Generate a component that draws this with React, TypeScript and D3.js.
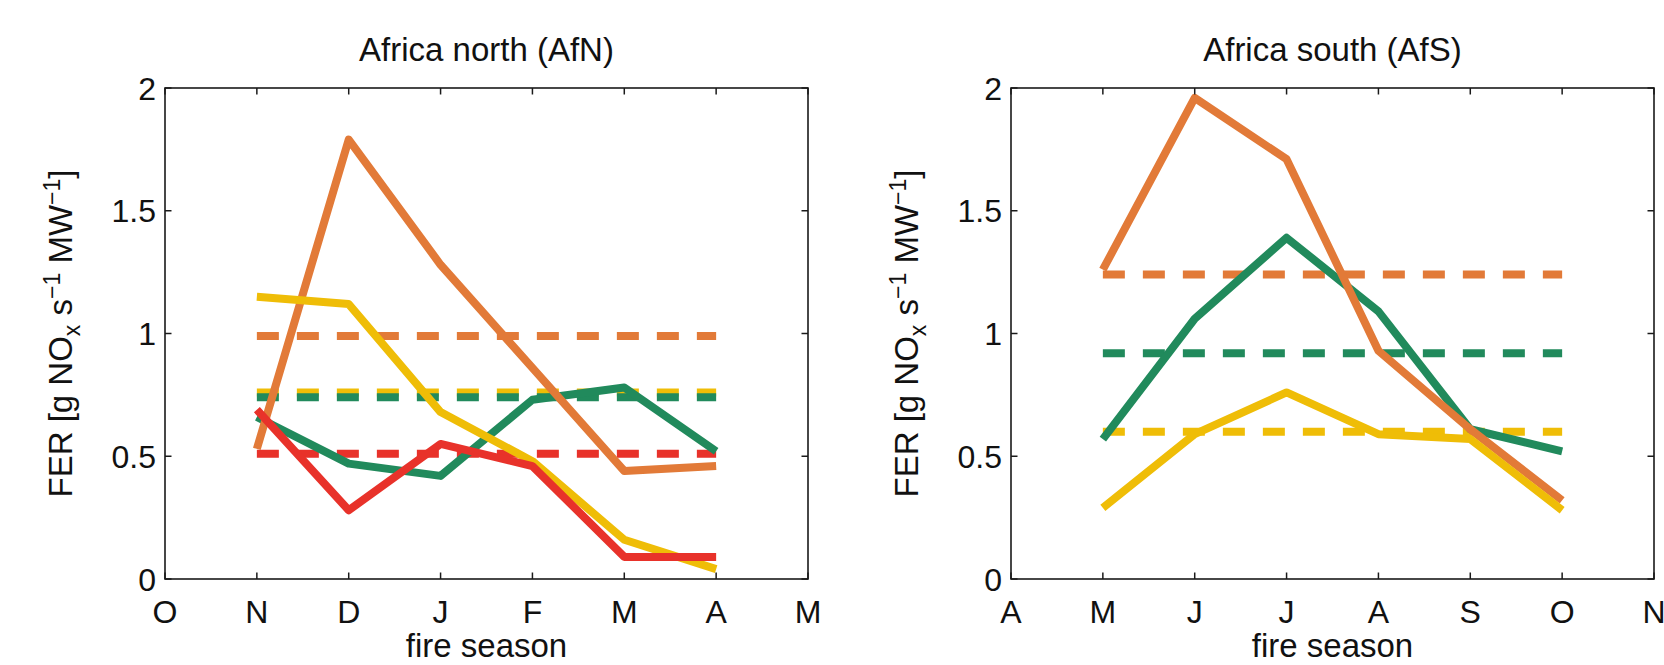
import React from "react";
import * as d3 from "d3";

// ---------- data ----------
const ticksNorth = ["O", "N", "D", "J", "F", "M", "A", "M"];
const ticksSouth = ["A", "M", "J", "J", "A", "S", "O", "N"];
const yTicks = [0, 0.5, 1, 1.5, 2];

// Africa north (AfN): values for N, D, J, F, M, A
const afnOrange = [0.53, 1.79, 1.28, 0.86, 0.44, 0.46];
const afnYellow = [1.15, 1.12, 0.68, 0.48, 0.16, 0.04];
const afnGreen = [0.66, 0.47, 0.42, 0.73, 0.78, 0.52];
const afnRed = [0.69, 0.28, 0.55, 0.46, 0.09, 0.09];
const afnMeans = { orange: 0.99, yellow: 0.76, green: 0.74, red: 0.51 };

// Africa south (AfS): values for M, J, J, A, S, O
const afsOrange = [1.26, 1.96, 1.71, 0.93, 0.61, 0.32];
const afsGreen = [0.57, 1.06, 1.39, 1.09, 0.61, 0.52];
const afsYellow = [0.29, 0.59, 0.76, 0.59, 0.57, 0.28];
const afsMeans = { orange: 1.24, green: 0.92, yellow: 0.6 };

const COLORS: Record<string, string> = {
  orange: "#e27a38",
  yellow: "#efbd07",
  green: "#218a5c",
  red: "#e8322a",
};

const FONT = "'Liberation Sans', Arial, Helvetica, sans-serif";

type Series = { color: string; values: number[]; mean?: number };

function Panel({
  left,
  title,
  ticks,
  series,
  dashed,
}: {
  left: number;
  title: string;
  ticks: string[];
  series: Series[];
  dashed: { color: string; value: number }[];
}) {
  const width = 643;
  const top = 88;
  const bottom = 579;
  const x = d3.scaleLinear().domain([0, ticks.length - 1]).range([left, left + width]);
  const y = d3.scaleLinear().domain([0, 2]).range([bottom, top]);
  const line = d3
    .line<number>()
    .x((_, i) => x(i + 1))
    .y((d) => y(d));
  const tl = 6.5;
  const firstIdx = 1;
  const lastIdx = ticks.length - 2;

  // solids drawn in a given order
  return (
    <g>
      {/* dashed means */}
      {dashed.map((d, i) => (
        <line
          key={"d" + i}
          x1={x(firstIdx)}
          x2={x(lastIdx)}
          y1={y(d.value)}
          y2={y(d.value)}
          stroke={COLORS[d.color]}
          strokeWidth={8}
          strokeDasharray="22 18"
        />
      ))}
      {series.map((s, i) => (
        <path
          key={"s" + i}
          d={line(s.values) || ""}
          fill="none"
          stroke={COLORS[s.color]}
          strokeWidth={8}
          strokeLinejoin="round"
          strokeLinecap="butt"
        />
      ))}
      {/* axes box */}
      <rect
        x={left}
        y={top}
        width={width}
        height={bottom - top}
        fill="none"
        stroke="#1a1a1a"
        strokeWidth={1.6}
      />
      {/* x ticks */}
      {ticks.map((t, i) => (
        <g key={"xt" + i}>
          <line x1={x(i)} x2={x(i)} y1={bottom} y2={bottom - tl} stroke="#1a1a1a" strokeWidth={1.5} />
          <line x1={x(i)} x2={x(i)} y1={top} y2={top + tl} stroke="#1a1a1a" strokeWidth={1.5} />
          <text
            x={x(i)}
            y={623}
            textAnchor="middle"
            fontFamily={FONT}
            fontSize={32}
            fill="#111"
          >
            {t}
          </text>
        </g>
      ))}
      {/* y ticks */}
      {yTicks.map((v, i) => (
        <g key={"yt" + i}>
          <line x1={left} x2={left + tl} y1={y(v)} y2={y(v)} stroke="#1a1a1a" strokeWidth={1.5} />
          <line
            x1={left + width}
            x2={left + width - tl}
            y1={y(v)}
            y2={y(v)}
            stroke="#1a1a1a"
            strokeWidth={1.5}
          />
          <text
            x={left - 9}
            y={y(v)}
            dy="0.36em"
            textAnchor="end"
            fontFamily={FONT}
            fontSize={32}
            fill="#111"
          >
            {String(v)}
          </text>
        </g>
      ))}
      {/* title */}
      <text
        x={left + width / 2}
        y={61}
        textAnchor="middle"
        fontFamily={FONT}
        fontSize={33}
        fill="#111"
      >
        {title}
      </text>
      {/* x label */}
      <text
        x={left + width / 2}
        y={657}
        textAnchor="middle"
        fontFamily={FONT}
        fontSize={33}
        fill="#111"
      >
        fire season
      </text>
      {/* y label */}
      <text
        transform={`translate(${left - 93},${(top + bottom) / 2}) rotate(-90)`}
        textAnchor="middle"
        fontFamily={FONT}
        fontSize={33}
        fill="#111"
      >
        FER [g NO
        <tspan fontSize={23} dy={8}>
          x
        </tspan>
        <tspan dy={-8}> s</tspan>
        <tspan fontSize={23} dy={-12}>
          −1
        </tspan>
        <tspan dy={12}> MW</tspan>
        <tspan fontSize={23} dy={-12}>
          −1
        </tspan>
        <tspan dy={12}>]</tspan>
      </text>
    </g>
  );
}

export default function App() {
  return (
    <svg
      width={1664}
      height={665}
      style={{ position: "absolute", left: 0, top: 0, background: "#fff" }}
    >
      <rect x={0} y={0} width={1664} height={665} fill="#fff" />
      <Panel
        left={165}
        title="Africa north (AfN)"
        ticks={ticksNorth}
        dashed={[
          { color: "orange", value: afnMeans.orange },
          { color: "yellow", value: afnMeans.yellow },
          { color: "green", value: afnMeans.green },
          { color: "red", value: afnMeans.red },
        ]}
        series={[
          { color: "green", values: afnGreen },
          { color: "orange", values: afnOrange },
          { color: "yellow", values: afnYellow },
          { color: "red", values: afnRed },
        ]}
      />
      <Panel
        left={1011}
        title="Africa south (AfS)"
        ticks={ticksSouth}
        dashed={[
          { color: "orange", value: afsMeans.orange },
          { color: "green", value: afsMeans.green },
          { color: "yellow", value: afsMeans.yellow },
        ]}
        series={[
          { color: "green", values: afsGreen },
          { color: "orange", values: afsOrange },
          { color: "yellow", values: afsYellow },
        ]}
      />
    </svg>
  );
}
